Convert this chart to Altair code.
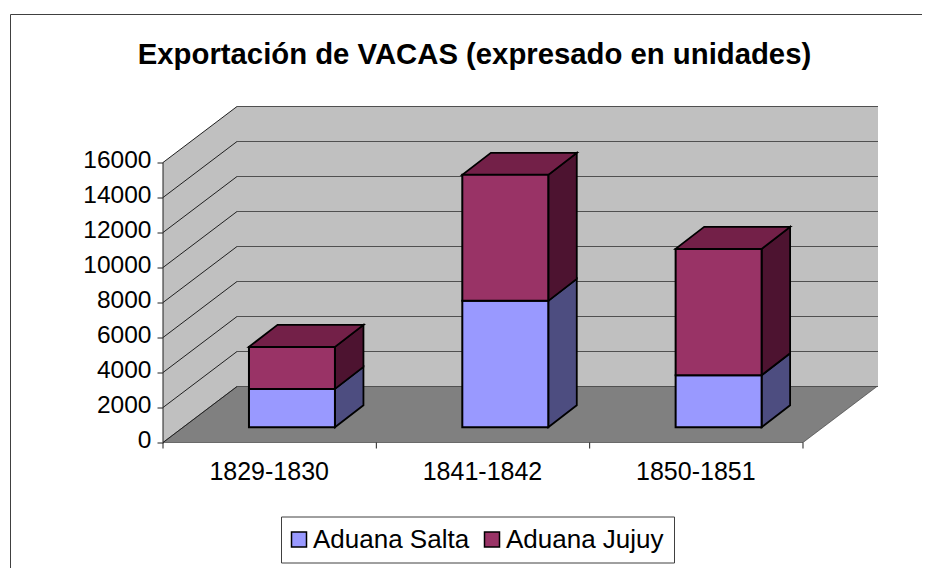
import altair as alt
import pandas as pd

categories = ["1829-1830", "1841-1842", "1850-1851"]
salta = [2190, 7220, 2970]
jujuy = [2400, 7200, 7220]
series = ["Aduana Salta", "Aduana Jujuy"]
front_colors = ["#9999FF", "#993366"]
side_colors = ["#4D4D80", "#4D1330"]
top_colors = ["#4D4D80", "#732048"]
ticks = [0, 2000, 4000, 6000, 8000, 10000, 12000, 14000, 16000]

FONT = "Liberation Sans"
PX_X = 213.33
PX_Y = 0.0175
WALL_DX = 74 / PX_X
WALL_DY = 56 * 1 / PX_Y
BAR_DX = 28.5 / PX_X
BAR_DY = 22 / PX_Y
BAR_W = 0.403
BAR_GAP = 0.403
BASE = 15.3 / PX_Y
N = len(categories)
X_DOM = [0, 715 / PX_X]
Y_DOM = [0, 16000 + WALL_DY]

xs = alt.Scale(domain=X_DOM, nice=False, zero=False)
ys = alt.Scale(domain=Y_DOM, nice=False, zero=False)

label_expr = "datum.value < 1 ? '%s' : datum.value < 2 ? '%s' : '%s'" % tuple(categories)
x_axis_def = alt.Axis(
    values=[i + 0.5 for i in range(N)], labelExpr=label_expr, title=None, domain=False, grid=False, ticks=False,
    labelFont=FONT, labelFontSize=25, labelColor="black", labelPadding=17, labelOffset=-1, labelOverlap=False, labelFlush=False)
y_axis_def = alt.Axis(
    values=ticks, title=None, domain=False, grid=False, tickSize=6, tickColor="#202020",
    labelFont=FONT, labelFontSize=24.5, labelColor="black", labelPadding=6, labelOffset=-2,
    labelOverlap=False, labelFlush=False, format="d")

X = lambda f: alt.X(f, type="quantitative", scale=xs, axis=x_axis_def)
Y = lambda f: alt.Y(f, type="quantitative", scale=ys, axis=y_axis_def, stack=None)

# bars
front, side, top = [], [], []
for i, cat in enumerate(categories):
    left = i + BAR_GAP
    right = left + BAR_W
    y0 = BASE
    for s, v in enumerate([salta[i], jujuy[i]]):
        y1 = y0 + v
        front.append(dict(left=left, right=right, y0=y0, y1=y1, serie=series[s]))
        seg = f"{i}-{s}"
        side.append(dict(x=right, lo=y0, hi=y1, seg=seg, shade=side_colors[s]))
        side.append(dict(x=right + BAR_DX, lo=y0 + BAR_DY, hi=y1 + BAR_DY, seg=seg, shade=side_colors[s]))
        y0 = y1
    top.append(dict(y=y0, a=left, b=right, seg=i, shade=top_colors[1]))
    top.append(dict(y=y0 + BAR_DY, a=left + BAR_DX, b=right + BAR_DX, seg=i, shade=top_colors[1]))

front = pd.DataFrame(front)
side = pd.DataFrame(side)
top = pd.DataFrame(top)

# outer frame
frame = alt.Chart(pd.DataFrame({"a": [0]})).mark_rect(
    filled=False, stroke="#404040", strokeWidth=1
).encode(x=alt.value(-152.5), x2=alt.value(800), y=alt.value(-92), y2=alt.value(500))

# walls and floor
back = alt.Chart(pd.DataFrame({"a": [WALL_DX], "b": [X_DOM[1]], "lo": [WALL_DY], "hi": [Y_DOM[1]]})).mark_rect(
    fill="#C0C0C0"
).encode(x=X("a"), x2="b", y=Y("lo"), y2="hi")
left_wall = alt.Chart(pd.DataFrame({"x": [0, WALL_DX], "lo": [0, WALL_DY], "hi": [16000, Y_DOM[1]]})).mark_area(
    fill="#C0C0C0"
).encode(x=X("x"), y=Y("lo"), y2="hi")
floor = alt.Chart(pd.DataFrame({"y": [0, WALL_DY], "a": [0, WALL_DX], "b": [N, N + WALL_DX]})).mark_area(
    fill="#808080", orient="horizontal", stroke="#303030", strokeWidth=0.6
).encode(y=Y("y"), x=X("a"), x2="b")

# gridlines
grid_back = alt.Chart(pd.DataFrame({"a": [WALL_DX] * len(ticks), "b": [X_DOM[1]] * len(ticks), "v": [t + WALL_DY for t in ticks]})).mark_rule(
    color="#505050", strokeWidth=1.2
).encode(x=X("a"), x2="b", y=Y("v"))
diag = []
for t in ticks:
    diag.append(dict(x=0, y=t, t=t))
    diag.append(dict(x=WALL_DX, y=t + WALL_DY, t=t))
grid_side = alt.Chart(pd.DataFrame(diag)).mark_line(color="#202020", strokeWidth=1).encode(
    x=X("x"), y=Y("y"), detail="t:N"
)

# axis lines and category ticks
y_line = alt.Chart(pd.DataFrame({"x": [0, 0], "y": [0, 16000]})).mark_line(color="#202020", strokeWidth=1).encode(
    x=X("x"), y=Y("y"),
)
x_ticks = alt.Chart(pd.DataFrame({"x": list(range(N + 1)), "y": [0] * (N + 1), "y2": [-6 / PX_Y] * (N + 1)})).mark_rule(
    color="#202020", strokeWidth=1
).encode(x=X("x"), y=Y("y"), y2="y2")

# bars
side_layer = alt.Chart(side).mark_area(stroke="black", strokeWidth=1.8).encode(
    x=X("x"), y=Y("lo"), y2="hi", detail="seg:N", fill=alt.Fill("shade:N", scale=None, legend=None)
)
top_layer = alt.Chart(top).mark_area(stroke="black", strokeWidth=1.8, orient="horizontal").encode(
    y=Y("y"), x=X("a"), x2="b", detail="seg:N", fill=alt.Fill("shade:N", scale=None, legend=None)
)
front_layer = alt.Chart(front).mark_rect(stroke="black", strokeWidth=2).encode(
    x=X("left"), x2="right", y=Y("y0"), y2="y1",
    color=alt.Color("serie:N", scale=alt.Scale(domain=series, range=front_colors), legend=alt.Legend(
        orient="none", legendX=118, legendY=410, direction="horizontal", title=None,
        symbolType="square", symbolSize=225, symbolStrokeColor="black", symbolStrokeWidth=1.5,
        symbolOffset=-5,
        labelFont=FONT, labelFontSize=26, labelColor="black", strokeColor="#404040", fillColor="white",
        padding=10, columnPadding=11, labelOffset=1, symbolOpacity=1)),
)

chart = alt.layer(
    frame, back, left_wall, floor, grid_back, grid_side, y_line, x_ticks, side_layer, top_layer, front_layer
).properties(
    width=715, height=336,
    padding={"left": 155, "top": 98.5, "right": 44, "bottom": 125.5},
    autosize=alt.AutoSizeParams(type="none"),
    title=alt.TitleParams(
        "Exportación de VACAS (expresado en unidades)", font=FONT, fontSize=29.3, fontWeight="bold",
        color="black", anchor="middle", dx=-46, offset=-56),
).configure_view(stroke=None)

chart.save("out.html", embed_options={"renderer": "svg", "actions": False})
